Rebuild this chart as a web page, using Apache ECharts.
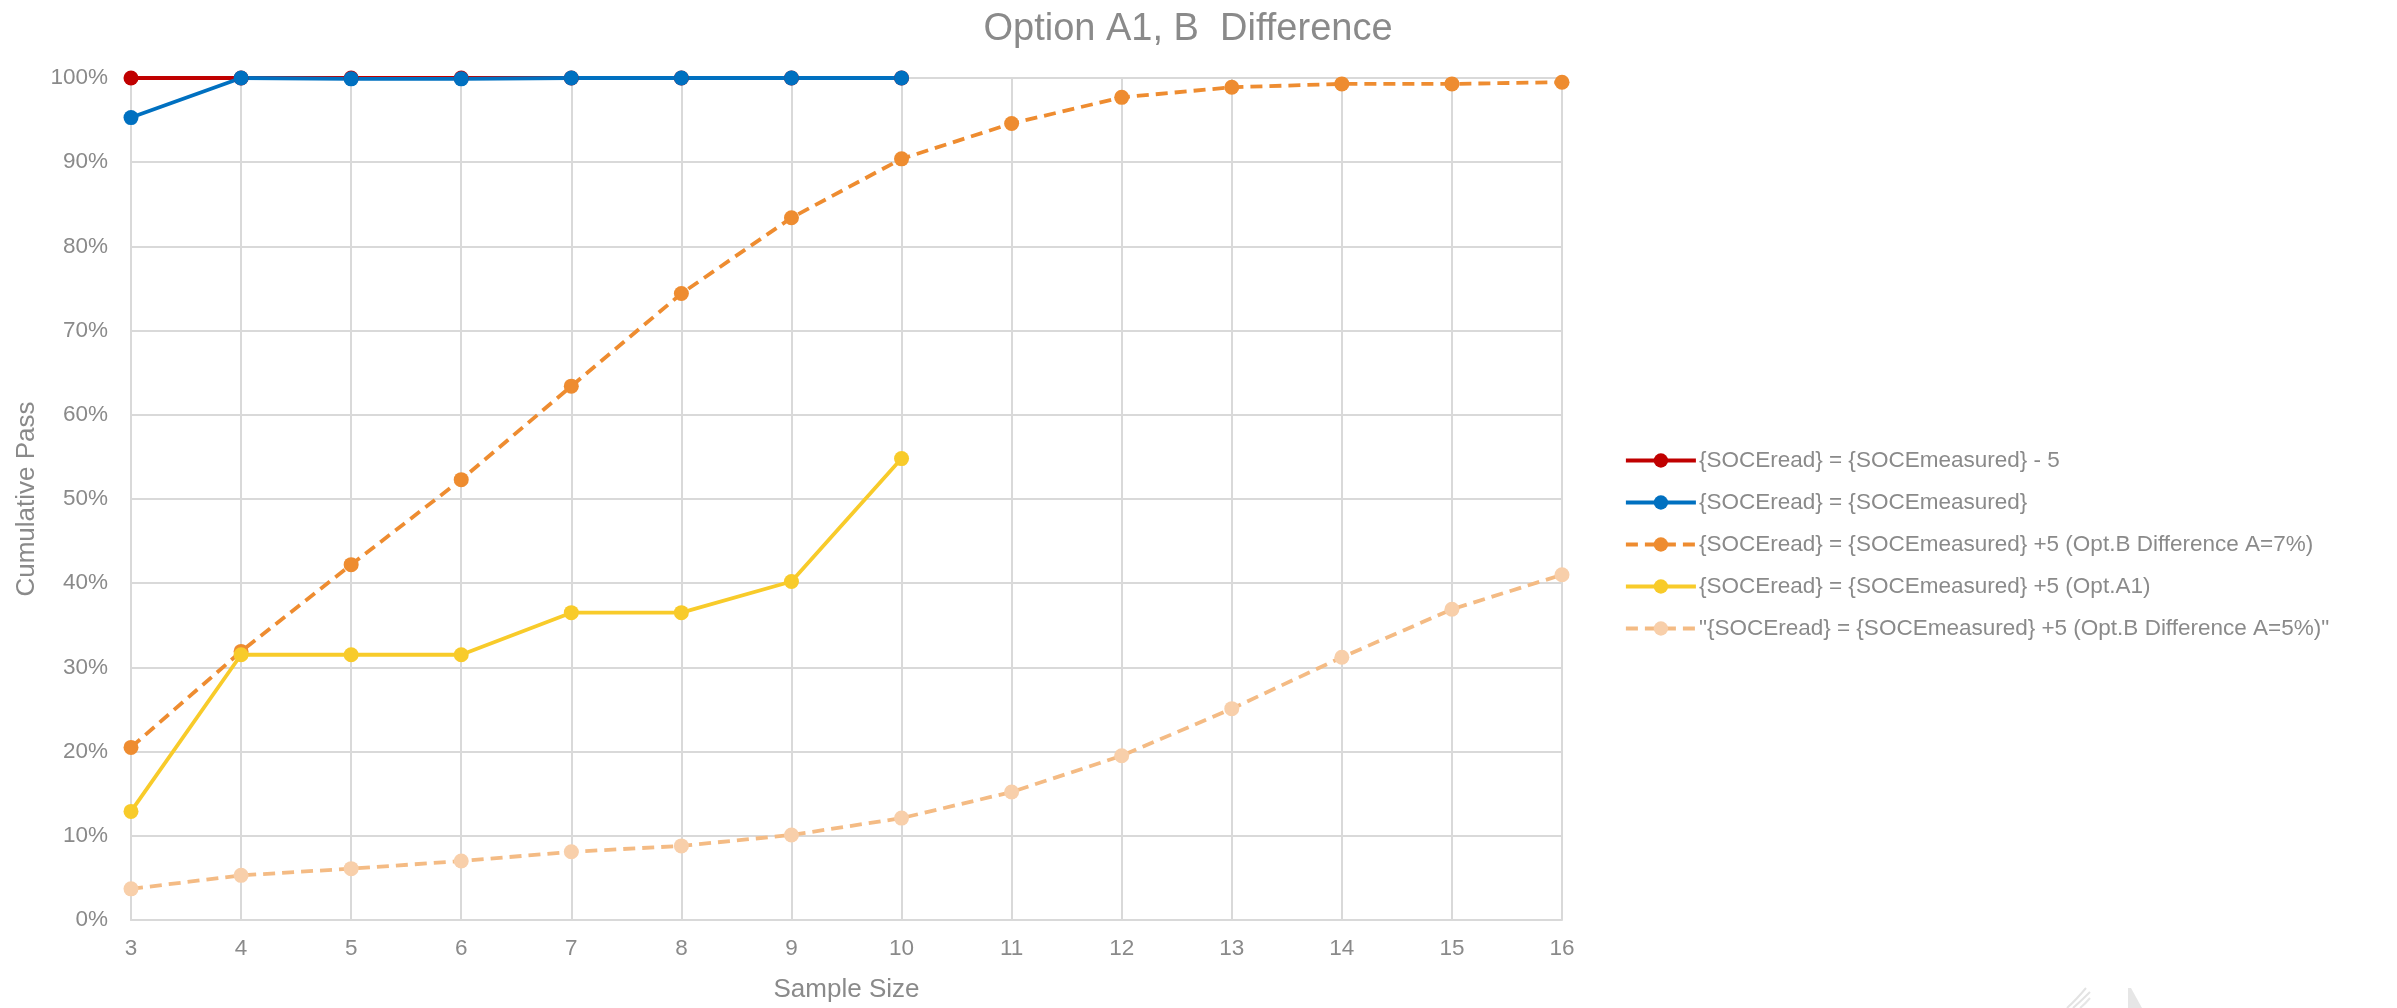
<!DOCTYPE html>
<html>
<head>
<meta charset="utf-8">
<title>Option A1, B  Difference</title>
<script src="https://cdn.jsdelivr.net/npm/echarts@6/dist/echarts.min.js"></script>
<style>
  html, body { margin: 0; padding: 0; background: #ffffff; }
  #chart { width: 2397px; height: 1008px; }
</style>
</head>
<body>
<div id="chart"></div>
<script>
// Sample sizes on the x axis
const sampleSizes = ['3', '4', '5', '6', '7', '8', '9', '10', '11', '12', '13', '14', '15', '16'];

// Cumulative pass rate (%) per series
const passMinus5 = [100, 100, 100, 100, 100, 100, 100, 100];
const passEqual = [95.3, 100, 99.9, 99.9, 100, 100, 100, 100];
const passPlus5OptB7 = [20.5, 31.9, 42.2, 52.3, 63.4, 74.4, 83.4, 90.4, 94.6, 97.7, 98.9, 99.3, 99.3, 99.5];
const passPlus5OptA1 = [12.9, 31.5, 31.5, 31.5, 36.5, 36.5, 40.2, 54.8];
const passPlus5OptB5 = [3.7, 5.3, 6.1, 7.0, 8.1, 8.8, 10.1, 12.1, 15.2, 19.5, 25.1, 31.2, 36.9, 41.0];

// Series names as shown in the legend
const seriesNames = [
  '{SOCEread} = {SOCEmeasured} - 5',
  '{SOCEread} = {SOCEmeasured}',
  '{SOCEread} = {SOCEmeasured} +5 (Opt.B Difference A=7%)',
  '{SOCEread} = {SOCEmeasured} +5 (Opt.A1)',
  '"{SOCEread} = {SOCEmeasured} +5 (Opt.B Difference A=5%)"'
];

// Y axis tick labels
const yTicks = [0, 10, 20, 30, 40, 50, 60, 70, 80, 90, 100];

const FONT = '"Liberation Sans", Arial, sans-serif';
const TEXT_GREY = '#8a8a8a';
const GRID_GREY = '#d9d9d9';
const DASH = [12, 7];

function lineSeries(name, data, color, markerColor, dashed) {
  return {
    name: name,
    type: 'line',
    data: data,
    symbol: 'circle',
    symbolSize: 15,
    showSymbol: true,
    smooth: false,
    lineStyle: { color: color, width: 3.8, type: dashed ? DASH : 'solid', cap: 'butt' },
    itemStyle: { color: markerColor, borderColor: markerColor, borderWidth: 0 },
    emphasis: { disabled: true },
    animation: false
  };
}

const chart = echarts.init(document.getElementById('chart'), null, { renderer: 'canvas' });

chart.setOption({
  backgroundColor: '#ffffff',
  animation: false,
  textStyle: { fontFamily: FONT },
  title: {
    text: 'Option A1, B  Difference',
    left: 1183,
    textAlign: 'center',
    top: 6,
    textStyle: { fontFamily: FONT, fontSize: 38, fontWeight: 'normal', color: TEXT_GREY }
  },
  legend: {
    orient: 'vertical',
    left: 1619,
    top: 444,
    itemWidth: 70,
    itemHeight: 18,
    itemGap: 19,
    selectedMode: false,
    lineStyle: { width: 'inherit', type: 'inherit' },
    textStyle: { fontFamily: FONT, fontSize: 22.5, color: TEXT_GREY, padding: [0, 0, 0, -2] },
    data: seriesNames
  },
  grid: { left: 131, top: 78, width: 1431, height: 848, containLabel: false },
  xAxis: {
    type: 'category',
    data: sampleSizes,
    boundaryGap: false,
    name: 'Sample Size',
    nameLocation: 'middle',
    nameGap: 57,
    nameTextStyle: { fontFamily: FONT, fontSize: 26, color: TEXT_GREY },
    axisLine: { show: true, lineStyle: { color: GRID_GREY, width: 2 } },
    axisTick: { show: false },
    axisLabel: { fontFamily: FONT, fontSize: 22.5, color: TEXT_GREY, margin: 17 },
    splitLine: { show: true, lineStyle: { color: GRID_GREY, width: 2 } }
  },
  yAxis: {
    type: 'value',
    min: yTicks[0],
    max: yTicks[yTicks.length - 1],
    interval: 10,
    name: 'Cumulative Pass',
    nameLocation: 'middle',
    nameGap: 90,
    nameTextStyle: { fontFamily: FONT, fontSize: 26, color: TEXT_GREY },
    axisLine: { show: true, lineStyle: { color: GRID_GREY, width: 2 } },
    axisTick: { show: false },
    axisLabel: { fontFamily: FONT, fontSize: 22.5, color: TEXT_GREY, margin: 23, formatter: '{value}%' },
    splitLine: { show: true, lineStyle: { color: GRID_GREY, width: 2 } }
  },
  series: [
    lineSeries(seriesNames[0], passMinus5, '#c00000', '#c00000', false),
    lineSeries(seriesNames[1], passEqual, '#0070c0', '#0070c0', false),
    lineSeries(seriesNames[2], passPlus5OptB7, '#ee8c30', '#ee8c30', true),
    lineSeries(seriesNames[3], passPlus5OptA1, '#f8cb2a', '#f8cb2a', false),
    lineSeries(seriesNames[4], passPlus5OptB5, '#f4bb84', '#f8cfaa', true)
  ],
  // faint logo strokes in the lower right corner
  graphic: [
    { type: 'bezierCurve', silent: true, shape: { x1: 2067, y1: 1008, x2: 2086, y2: 988, cpx1: 2076, cpy1: 1000 },
      style: { stroke: '#e3e3e3', lineWidth: 2, fill: null } },
    { type: 'bezierCurve', silent: true, shape: { x1: 2073, y1: 1008, x2: 2090, y2: 992, cpx1: 2081, cpy1: 1001 },
      style: { stroke: '#e3e3e3', lineWidth: 2, fill: null } },
    { type: 'bezierCurve', silent: true, shape: { x1: 2080, y1: 1008, x2: 2090, y2: 998, cpx1: 2085, cpy1: 1004 },
      style: { stroke: '#e6e6e6', lineWidth: 2, fill: null } },
    { type: 'polygon', silent: true, shape: { points: [[2128, 988], [2131, 988], [2142, 1008], [2128, 1008]] },
      style: { fill: '#e6e6e6' } }
  ]
});
</script>
</body>
</html>
